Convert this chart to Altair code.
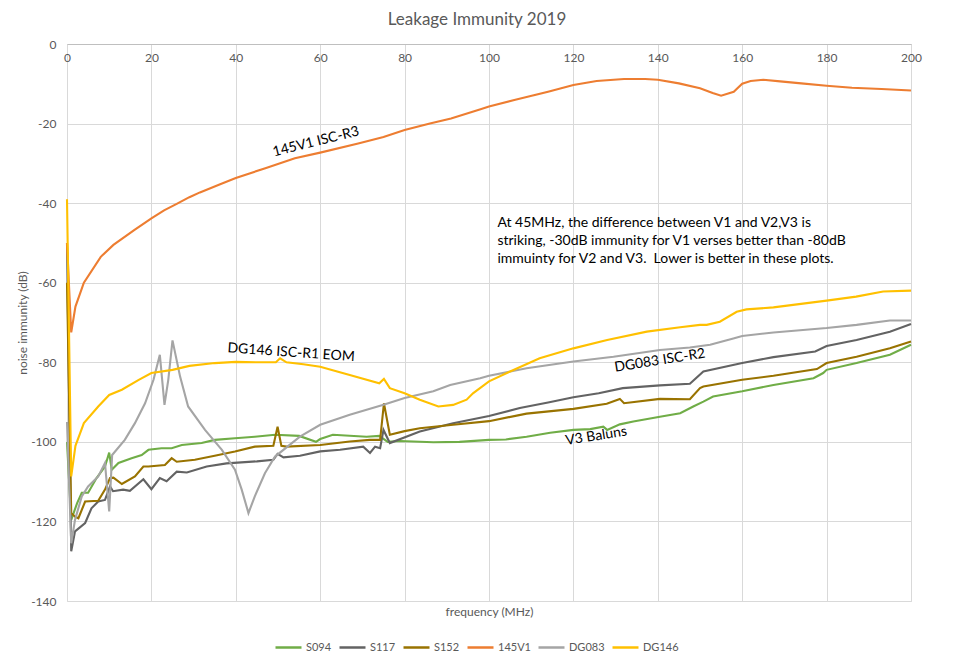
import altair as alt
import pandas as pd

# ---- data (frequency MHz, noise immunity dB) ----
S094_f = [0, 1, 2.4, 3.5, 5, 7, 9, 10, 10.6, 12.2, 15.3, 17.7, 19.3, 22.4, 24.8, 27.2, 31.9, 35, 39.8,
          44.5, 49.3, 55, 59, 60, 63, 71, 74, 76, 78.9, 86.8, 93, 100, 104, 108.9, 114.5, 120, 124,
          127.1, 128, 131, 134.2, 140.5, 145.3, 148.4, 150.8, 153.1, 160, 167.4, 176.9, 179.2, 180,
          187.1, 195, 200]
S094_v = [-100, -119.6, -115.4, -112.8, -112.8, -109.1, -106.2, -102.7, -107, -105.3, -104.1, -103.3,
          -102, -101.6, -101.6, -100.8, -100.3, -99.5, -99.1, -98.7, -98.2, -98.5, -100, -99.3, -98.2,
          -98.7, -98.5, -100, -99.8, -100.1, -100, -99.5, -99.4, -98.7, -97.7, -97, -96.8, -96.2, -97,
          -95.6, -94.9, -93.7, -92.8, -91.1, -89.9, -88.6, -87.3, -85.7, -84, -82.7, -81.9, -80.2,
          -78.1, -75.6]

S117_f = [0, 1, 1.9, 4.3, 5.8, 7.4, 9, 10.2, 10.9, 13.3, 14.9, 18.1, 20, 22, 23.6, 26, 28.4, 33.1, 37.8,
          45, 48.9, 49.9, 51.3, 55.2, 60, 64.7, 70.2, 71.8, 73, 74.2, 75, 76.5, 83.6, 91.5, 100, 107.3,
          114, 120, 126, 131.7, 140.5, 147.6, 150.8, 160, 167.4, 177.3, 180, 187.1, 195, 200]
S117_v = [-50, -127.5, -122.5, -120.4, -116.7, -115, -114.6, -111.2, -112.4, -112, -112.3, -109.4,
          -111.9, -109.1, -109.9, -107.5, -107.7, -106.2, -105.4, -104.9, -104.5, -103, -103.9, -103.5,
          -102.4, -102, -101.2, -102.8, -101.2, -101.6, -97, -100.3, -97.4, -95.3, -93.5, -91.5, -90.1,
          -88.8, -87.8, -86.5, -85.8, -85.4, -82.3, -80.2, -78.7, -77.3, -75.9, -74.4, -72.3, -70.4]

S152_f = [0, 1, 1.9, 2.7, 4.3, 7.4, 9, 10.2, 11, 13, 16.1, 18.1, 19.3, 23.2, 24.8, 26, 30.3, 35, 39.8,
          44.5, 48.9, 49.9, 50.8, 52, 60, 67, 71.8, 74.2, 75.1, 76.5, 80, 83.6, 91.5, 100, 108.9, 120,
          127.9, 131, 132, 140.5, 147.6, 150, 150.8, 160, 167.4, 177.7, 180, 187.1, 195, 200]
S152_v = [-60, -117.9, -118.8, -119.2, -115, -114.8, -112, -109.1, -109, -110.6, -108.7, -106.2, -106.2,
          -105.8, -104.1, -105, -104.5, -103.5, -102.4, -101.2, -101, -96.2, -101, -101.2, -100.8, -99.9,
          -99.5, -99.5, -90.3, -98.2, -97.3, -96.6, -95.7, -94.8, -92.9, -91.7, -90.4, -89.2, -90.3,
          -89.2, -89.3, -86.5, -86.1, -84.4, -83.4, -81.7, -80.2, -78.6, -76.5, -74.8]

V145_f = [0, 1, 2, 4, 8, 11, 16, 20, 23, 26, 29, 31.5, 36, 40, 47, 54, 60, 69, 75, 80, 86, 91, 98, 100,
          106, 114, 120, 125.5, 132, 137, 140, 145, 150, 153, 155, 158, 160, 162, 165, 169, 174, 180,
          186, 193, 200]
V145_v = [-50, -72.5, -66, -60, -53.5, -50.5, -46.7, -43.8, -41.8, -40.2, -38.5, -37.3, -35.4, -33.7,
          -31.2, -28.7, -27.3, -25, -23.4, -21.6, -20, -18.7, -16.4, -15.7, -14.1, -12, -10.3, -9.3,
          -8.8, -8.8, -9.0, -9.9, -11.1, -12.3, -13, -12, -10, -9.3, -9.0, -9.4, -9.9, -10.5, -11,
          -11.3, -11.7]

DG083_f = [0, 1, 1.9, 3.5, 5, 7.4, 9, 10, 10.7, 13.7, 16.1, 18.5, 20.5, 22, 23.1, 24, 25, 26.8, 28.7,
           32.7, 36.7, 39.8, 41.4, 43, 44.5, 46.9, 49.3, 55.2, 60, 67, 75, 80, 86.8, 90.8, 97.9, 100,
           108.9, 120, 129.5, 140.5, 147.6, 152.4, 157.9, 160, 167.4, 180, 187.1, 195, 200]
DG083_v = [-95, -125.5, -119.6, -113.7, -111.2, -108.7, -105.3, -117.5, -103.3, -99.5, -95.3, -90.3,
           -84.4, -78.1, -90.7, -84.4, -74.5, -83.6, -91.1, -97, -102, -107, -112, -117.9, -113.7,
           -107.9, -103.7, -98.7, -95.7, -93.2, -90.7, -89, -87.3, -85.7, -84, -83.4, -81.5, -79.8,
           -78.6, -76.9, -76.3, -75.6, -74, -73.4, -72.5, -71.4, -70.6, -69.5, -69.5]

DG146_f = [0, 1, 2, 4, 7.4, 10, 13, 17, 20, 25, 29, 35, 40, 45, 49.5, 50.5, 52, 56, 60, 67, 74, 75.1,
           76.5, 80, 83.6, 88, 91.5, 94.7, 96.2, 100, 105, 112, 120, 128, 137.4, 145.3, 150, 151.6,
           154.7, 158.7, 161, 167.4, 180, 187, 193.4, 200]
DG146_v = [-39, -108.7, -101, -95.3, -91.1, -88.2, -86.9, -84.4, -82.7, -81.9, -80.9, -80.2, -79.9, -80,
           -80, -79, -80, -80.5, -81.1, -83.2, -85.3, -84.2, -86.5, -87.8, -89.4, -91.1, -90.7, -89.4,
           -87.8, -84.8, -82.3, -79, -76.5, -74.4, -72.3, -71.2, -70.6, -70.6, -69.8, -67.3, -66.7,
           -66.2, -64.5, -63.5, -62.2, -62]

SERIES = ["S094", "S117", "S152", "145V1", "DG083", "DG146"]
COLORS = ["#70ad47", "#636363", "#997300", "#ed7d31", "#a5a5a5", "#ffc000"]
SERIES_DATA = [(S094_f, S094_v), (S117_f, S117_v), (S152_f, S152_v),
               (V145_f, V145_v), (DG083_f, DG083_v), (DG146_f, DG146_v)]

LABELS = ["145V1 ISC-R3", "DG146 ISC-R1 EOM", "DG083 ISC-R2", "V3 Baluns"]
LABEL_F = [59, 53.1, 140.5, 125.4]
LABEL_V = [-24.6, -77.6, -79.6, -98.6]
LABEL_ANGLE = [346, 4, 351, 351]

NOTE = ("At 45MHz, the difference between V1 and V2,V3 is\n"
        "striking, -30dB immunity for V1 verses better than -80dB\n"
        "immuinty for V2 and V3.\u00a0 Lower is better in these plots.")
NOTE_F = 102.0
NOTE_V = -43.2

TITLE = "Leakage Immunity 2019"
FONT = "Lato"
GREY = "#595959"

rows = []
for name, (fs, vs) in zip(SERIES, SERIES_DATA):
    for i, (f, v) in enumerate(zip(fs, vs)):
        rows.append({"series": name, "f": f, "v": v, "i": i})
df = pd.DataFrame(rows)

W, H = 844, 557

x_scale = alt.Scale(domain=[0, 200], nice=False, zero=False)
y_scale = alt.Scale(domain=[-140, 0], nice=False)

lines = alt.Chart(df).mark_line(strokeWidth=2.1).encode(
    x=alt.X("f:Q", scale=x_scale,
            axis=alt.Axis(title="frequency (MHz)", orient="bottom", offset=-H,
                          values=list(range(0, 201, 20)), ticks=False, labelFlush=False,
                          domainColor="#bfbfbf", domainWidth=1,
                          gridColor="#d9d9d9", labelColor=GREY, labelFontSize=12,
                          labelFont=FONT, labelPadding=8, titleFont=FONT,
                          titleFontSize=12, titleColor=GREY, titleFontWeight="normal",
                          titleY=H + 10, titleBaseline="middle")),
    y=alt.Y("v:Q", scale=y_scale,
            axis=alt.Axis(title="noise immunity (dB)", values=list(range(-140, 1, 20)),
                          ticks=False, domain=False, gridColor="#d9d9d9", labelFlush=False,
                          labelExpr="datum.value == 0 ? '0' : '-' + abs(datum.value)",
                          labelAlign="right", labelColor=GREY, labelFontSize=12, labelFont=FONT,
                          labelPadding=11, titleFont=FONT, titleFontSize=12,
                          titleColor=GREY, titleFontWeight="normal",
                          titleX=-45, titleBaseline="middle")),
    color=alt.Color("series:N", scale=alt.Scale(domain=SERIES, range=COLORS),
                    legend=alt.Legend(title=None, orient="none", legendX=207, legendY=589,
                                      direction="horizontal", symbolType="stroke",
                                      symbolSize=676, symbolStrokeWidth=2.5,
                                      labelFont=FONT, labelFontSize=11, labelColor=GREY,
                                      labelOffset=3, columnPadding=2, gridAlign="none")),
    order="i:Q",
)

texts = []
for t, f, v, a in zip(LABELS, LABEL_F, LABEL_V, LABEL_ANGLE):
    d = pd.DataFrame({"f": [f], "v": [v], "t": [t]})
    texts.append(alt.Chart(d).mark_text(angle=a, font=FONT, fontSize=14, color="black",
                                        align="center", baseline="middle").encode(
        x=alt.X("f:Q", scale=x_scale), y=alt.Y("v:Q", scale=y_scale), text="t:N"))

note_df = pd.DataFrame({"f": [NOTE_F], "v": [NOTE_V], "t": [NOTE]})
note = alt.Chart(note_df).mark_text(font=FONT, fontSize=14, color="black", align="left",
                                    baseline="top", lineBreak="\n", lineHeight=18).encode(
    x=alt.X("f:Q", scale=x_scale), y=alt.Y("v:Q", scale=y_scale), text="t:N")

chart = alt.layer(lines, *texts, note).properties(
    width=W, height=H,
    title=alt.TitleParams(TITLE, font=FONT, fontSize=17, color=GREY, fontWeight="normal",
                          anchor="middle", frame="group", offset=9, dx=-12),
    autosize=alt.AutoSizeParams(type="none"),
    padding={"left": 59, "top": 36, "right": 39, "bottom": 52},
).configure_view(strokeWidth=0).configure(background="white")

chart.save("out.html", embed_options={"renderer": "svg", "actions": False})
